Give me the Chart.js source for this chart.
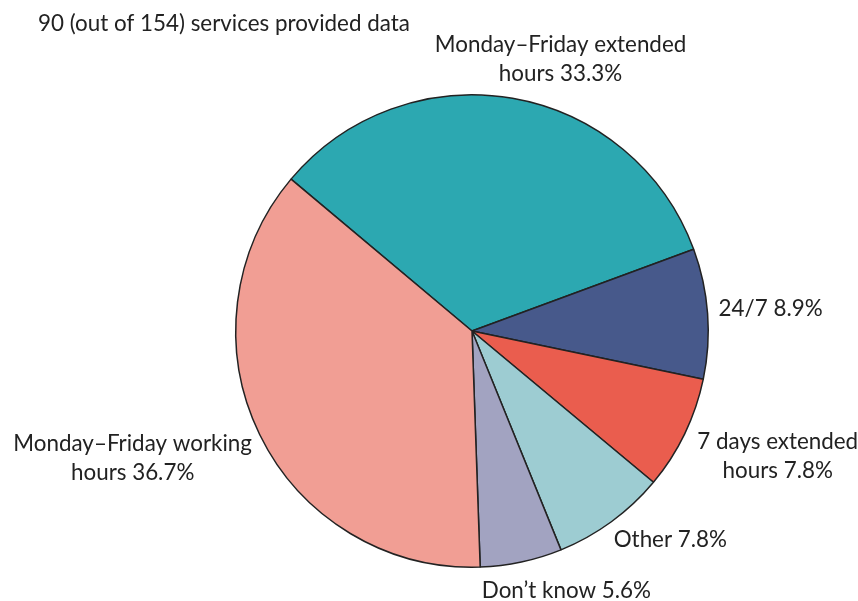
<!DOCTYPE html>
<html>
<head>
<meta charset="utf-8">
<script src="https://cdn.jsdelivr.net/npm/chart.js@4.4.1/dist/chart.umd.min.js"></script>
<style>
  html, body { margin: 0; padding: 0; background: #fff; }
  #wrap { width: 858px; height: 601px; position: relative; }
</style>
</head>
<body>
<div id="wrap"><canvas id="pieChart"></canvas></div>
<script>
// Opening hours of services
const titulo = "90 (out of 154) services provided data";
const categorias = [
    ["Monday\u2013Friday extended", "hours"],
    ["24/7"],
    ["7 days extended", "hours"],
    ["Other"],
    ["Don\u2019t know"],
    ["Monday\u2013Friday working", "hours"],
];
const porcentajes = [33.3, 8.9, 7.8, 7.8, 5.6, 36.7];
const colores = ["#2ca8b1", "#47598b", "#ea5d4e", "#9dccd2", "#a2a3c1", "#f19e94"];

// desplazamiento de cada etiqueta respecto al borde del sector
const desplazamientos = [[48, -39], [63, -5], [93, 22], [59, 18], [45, 29], [-127, 24]];

const fuente = "22.4px Lato";
const colorTexto = "#222";

const etiquetas = {
    id: "etiquetas",
    afterDraw(chart) {
        const ctx = chart.ctx;
        ctx.save();
        ctx.font = fuente;
        ctx.fillStyle = colorTexto;
        ctx.textBaseline = "middle";

        ctx.textAlign = "left";
        ctx.fillText(titulo, 38, 24);

        ctx.textAlign = "center";
        const arcos = chart.getDatasetMeta(0).data;
        arcos.forEach((arco, i) => {
            const medio = (arco.startAngle + arco.endAngle) / 2;
            const x = arco.x + Math.cos(medio) * arco.outerRadius + desplazamientos[i][0];
            const y = arco.y + Math.sin(medio) * arco.outerRadius + desplazamientos[i][1];
            const lineas = categorias[i].slice();
            lineas[lineas.length - 1] += " " + porcentajes[i].toFixed(1) + "%";
            const alto = 29;
            const y0 = y - (alto * (lineas.length - 1)) / 2;
            lineas.forEach((l, j) => ctx.fillText(l, x, y0 + j * alto));
        });
        ctx.restore();
    },
};

const pieChart = document.getElementById("pieChart").getContext("2d");

let chart = new Chart(pieChart, {
    type: "pie",
    data: {
        labels: categorias.map((c) => c.join(" ")),
        datasets: [
            {
                data: porcentajes,
                backgroundColor: colores,
                borderColor: "#222",
                borderWidth: 1.5,
            },
        ],
    },
    options: {
        responsive: true,
        maintainAspectRatio: false,
        animation: false,
        rotation: -50,
        layout: {
            padding: { left: 235, right: 149, top: 94, bottom: 33 },
        },
        plugins: {
            legend: { display: false },
            tooltip: { enabled: false },
        },
    },
    plugins: [etiquetas],
});
</script>
</body>
</html>
